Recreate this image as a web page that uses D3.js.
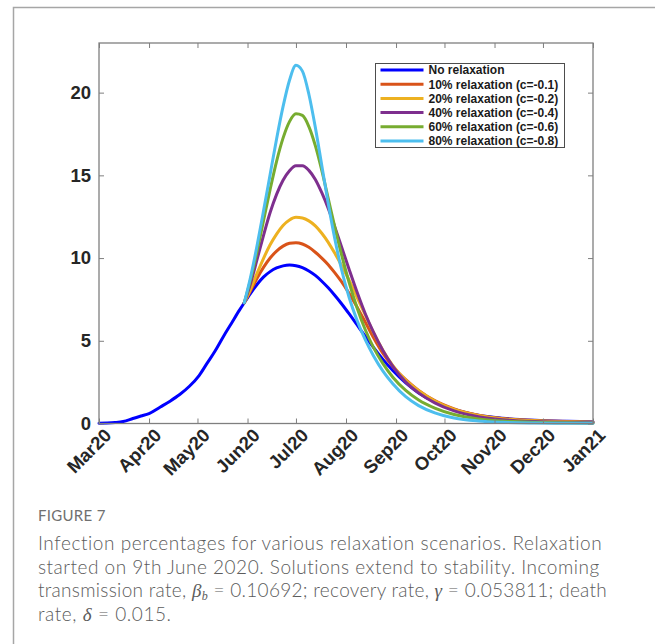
<!DOCTYPE html>
<html>
<head>
<meta charset="utf-8">
<script src="https://cdn.jsdelivr.net/npm/d3@7/dist/d3.min.js"></script>
<style>
  html, body { margin: 0; padding: 0; background: #fff; }
  svg { display: block; }
</style>
</head>
<body>
<script>
// ---- data: infected population (%) by day since 1 March 2020 ----
const startDate = new Date(2020, 2, 1);

// common growth phase before relaxation begins
const earlyDays = [0, 5, 10, 15, 21, 26, 31, 38, 44, 50, 56, 62, 67, 72, 77, 82, 87];
const earlyInfected = [0.02, 0.03, 0.06, 0.12, 0.3, 0.45, 0.6, 1.0, 1.35, 1.75, 2.25, 2.9, 3.65, 4.4, 5.25, 6.05, 6.85];

// days after relaxation starts
const relaxDays = [90, 94, 98, 102, 106, 110, 114, 118, 122, 126, 130, 134, 138, 142, 146, 150, 155, 160, 165, 170, 176, 182, 190, 198, 208, 220, 235, 250, 270, 290, 306];

const noRelaxation = [7.3, 7.88, 8.42, 8.86, 9.18, 9.4, 9.53, 9.58, 9.54, 9.42, 9.22, 8.95, 8.6, 8.2, 7.75, 7.27, 6.62, 5.94, 5.26, 4.6, 3.86, 3.2, 2.45, 1.85, 1.3, 0.85, 0.5, 0.32, 0.19, 0.13, 0.1];
const relax10 = [7.3, 8.05, 8.8, 9.45, 10.0, 10.42, 10.72, 10.89, 10.93, 10.85, 10.65, 10.35, 10.0, 9.6, 9.12, 8.6, 7.85, 7.02, 6.12, 5.2, 4.22, 3.45, 2.65, 2.0, 1.38, 0.88, 0.5, 0.3, 0.18, 0.12, 0.08];
const relax20 = [7.3, 8.15, 9.1, 10.0, 10.8, 11.45, 11.97, 12.3, 12.46, 12.42, 12.25, 11.95, 11.5, 10.95, 10.3, 9.6, 8.65, 7.6, 6.55, 5.5, 4.4, 3.5, 2.62, 1.98, 1.36, 0.85, 0.48, 0.28, 0.16, 0.1, 0.07];
const relax40 = [7.3, 8.5, 9.95, 11.4, 12.75, 13.85, 14.7, 15.28, 15.58, 15.58, 15.3, 14.75, 13.95, 13.0, 11.9, 10.75, 9.3, 7.9, 6.62, 5.52, 4.38, 3.45, 2.5, 1.85, 1.25, 0.76, 0.41, 0.23, 0.12, 0.07, 0.05];
const relax60 = [7.3, 8.75, 10.45, 12.3, 14.15, 15.85, 17.25, 18.25, 18.72, 18.62, 17.95, 16.8, 15.3, 13.6, 11.9, 10.3, 8.5, 6.95, 5.65, 4.6, 3.6, 2.8, 2.0, 1.42, 0.93, 0.54, 0.28, 0.15, 0.07, 0.04, 0.02];
const relax80 = [7.3, 8.9, 10.8, 12.9, 15.05, 17.2, 19.15, 20.75, 21.65, 21.3, 19.9, 17.9, 15.6, 13.3, 11.2, 9.4, 7.6, 6.2, 5.05, 4.1, 3.15, 2.4, 1.62, 1.08, 0.64, 0.33, 0.15, 0.07, 0.03, 0.015, 0.01];

const seriesNames = [
  "No relaxation",
  "10% relaxation (c=-0.1)",
  "20% relaxation (c=-0.2)",
  "40% relaxation (c=-0.4)",
  "60% relaxation (c=-0.6)",
  "80% relaxation (c=-0.8)"
];
const seriesColors = ["#0000ff", "#d95319", "#edb120", "#7e2f8e", "#77ac30", "#4dbeee"];

const monthLabels = ["Mar20", "Apr20", "May20", "Jun20", "Jul20", "Aug20", "Sep20", "Oct20", "Nov20", "Dec20", "Jan21"];
const yTicks = [0, 5, 10, 15, 20];

// ---- layout ----
const W = 655, H = 644;
const plot = { left: 99, right: 593, top: 43, bottom: 423.5 };

const svg = d3.select("body").append("svg").attr("width", W).attr("height", H);
svg.append("rect").attr("width", W).attr("height", H).attr("fill", "#fff");

// page frame
svg.append("path")
  .attr("d", `M13.5,${H} V7.5 H${W}`)
  .attr("fill", "none").attr("stroke", "#a6a6a6").attr("stroke-width", 1.5);

const toDate = d => d3.timeDay.offset(startDate, d);
const monthDates = monthLabels.map((_, i) => d3.timeMonth.offset(startDate, i));

const x = d3.scaleTime().domain([startDate, monthDates[monthDates.length - 1]]).range([plot.left, plot.right]);
const y = d3.scaleLinear().domain([0, 23]).range([plot.bottom, plot.top]);

const axisColor = "#7f7f7f";
const tickFont = "'Liberation Sans', Arial, sans-serif";
const tickSize = 18.5;

// ---- curves ----
const relaxed = [relax10, relax20, relax40, relax60, relax80];
const seriesData = [
  earlyDays.map((d, i) => [d, earlyInfected[i]]).concat(relaxDays.map((d, i) => [d, noRelaxation[i]])),
  ...relaxed.map(vals => relaxDays.map((d, i) => [d, vals[i]]))
];

const line = d3.line()
  .x(p => x(toDate(p[0])))
  .y(p => y(p[1]))
  .curve(d3.curveMonotoneX);

const curves = svg.append("g");
seriesData.forEach((pts, i) => {
  curves.append("path")
    .attr("d", line(pts))
    .attr("fill", "none")
    .attr("stroke", seriesColors[i])
    .attr("stroke-width", 3)
    .attr("stroke-linejoin", "round")
    .attr("stroke-linecap", "round");
});

// ---- axes (box with inward ticks on all sides) ----
const tickLen = 5;
const xAxisB = d3.axisBottom(x).tickValues(monthDates).tickSize(-tickLen)
  .tickFormat((d, i) => monthLabels[i]);
const gxB = svg.append("g").attr("transform", `translate(0,${plot.bottom})`).call(xAxisB);
gxB.selectAll("text")
  .attr("font-family", tickFont).attr("font-weight", "bold").attr("font-size", tickSize)
  .attr("fill", "#262626")
  .attr("text-anchor", "end")
  .attr("dy", null).attr("y", 0)
  .attr("transform", "translate(13,13) rotate(-45)");

const xAxisT = d3.axisTop(x).tickValues(monthDates).tickSize(-tickLen).tickFormat("");
svg.append("g").attr("transform", `translate(0,${plot.top})`).call(xAxisT);

const yAxisL = d3.axisLeft(y).tickValues(yTicks).tickSize(-tickLen).tickPadding(8);
const gyL = svg.append("g").attr("transform", `translate(${plot.left},0)`).call(yAxisL);
gyL.selectAll("text")
  .attr("font-family", tickFont).attr("font-weight", "bold").attr("font-size", tickSize)
  .attr("fill", "#262626");

const yAxisR = d3.axisRight(y).tickValues(yTicks).tickSize(-tickLen).tickFormat("");
svg.append("g").attr("transform", `translate(${plot.right},0)`).call(yAxisR);

svg.selectAll(".domain").remove();
svg.selectAll(".tick line").attr("stroke", axisColor).attr("stroke-width", 1);

svg.append("rect")
  .attr("x", plot.left).attr("y", plot.top)
  .attr("width", plot.right - plot.left).attr("height", plot.bottom - plot.top)
  .attr("fill", "none").attr("stroke", axisColor).attr("stroke-width", 1.3);

// ---- legend ----
const lg = { x: 375.5, y: 63.5, w: 189, h: 84, row: 14.2 };
const legend = svg.append("g");
legend.append("rect")
  .attr("x", lg.x).attr("y", lg.y).attr("width", lg.w).attr("height", lg.h)
  .attr("fill", "#fff").attr("stroke", "#4d4d4d").attr("stroke-width", 1);
seriesNames.forEach((name, i) => {
  const cy = lg.y + 6.5 + i * lg.row;
  legend.append("line")
    .attr("x1", lg.x + 5).attr("x2", lg.x + 48)
    .attr("y1", cy).attr("y2", cy)
    .attr("stroke", seriesColors[i]).attr("stroke-width", 3);
  legend.append("text")
    .attr("x", lg.x + 53).attr("y", cy).attr("dy", "0.36em")
    .attr("font-family", tickFont).attr("font-weight", "bold").attr("font-size", 12)
    .attr("fill", "#1a1a1a")
    .text(name);
});

// ---- caption ----
const capFont = "Lato, 'Open Sans', sans-serif";
const capColor = "#5c5c5c";
const mathFont = "'Liberation Serif', 'DejaVu Serif', serif";
const cap = svg.append("g").attr("font-family", capFont).attr("fill", capColor);

cap.append("text").attr("x", 38).attr("y", 521)
  .attr("font-size", 15).attr("fill", "#707070").attr("letter-spacing", 0.3).text("FIGURE 7");

const capLines = [
  [{ t: "Infection percentages for various relaxation scenarios. Relaxation" }],
  [{ t: "started on 9th June 2020. Solutions extend to stability. Incoming" }],
  [{ t: "transmission rate, " }, { t: "β", m: true }, { t: "b", sub: true }, { t: " = 0.10692; recovery rate, " },
   { t: "γ", m: true }, { t: " = 0.053811; death" }],
  [{ t: "rate, " }, { t: "δ", m: true }, { t: " = 0.015." }]
];
// text column width each caption line fills (last line is left ragged)
const capLineWidths = [565, 562, 569, null];

const capTexts = capLines.map((parts, li) => {
  const tx = cap.append("text").attr("x", 38).attr("y", 550 + li * 23.7).attr("font-size", 19)
    .attr("font-weight", 300);
  parts.forEach(p => {
    const ts = tx.append("tspan").text(p.t);
    if (p.m) ts.attr("font-family", mathFont).attr("font-style", "italic").attr("font-size", 19);
    if (p.sub) ts.attr("font-size", 12).attr("font-style", "italic").attr("baseline-shift", "-25%")
      .attr("font-family", mathFont);
  });
  return tx;
});
// tracking chosen per line so each full line spans its measure
const charCount = parts => parts.reduce((s, p) => s + p.t.length, 0);
const tracking = capTexts.map((t, i) => {
  if (capLineWidths[i] == null) return null;
  const natural = t.node().getComputedTextLength();
  return Math.max(0, Math.min(1.2, (capLineWidths[i] - natural) / charCount(capLines[i])));
});
const baseTracking = tracking[0];
capTexts.forEach((t, i) => t.attr("letter-spacing", (tracking[i] == null ? baseTracking : tracking[i]).toFixed(2)));
</script>
</body>
</html>
